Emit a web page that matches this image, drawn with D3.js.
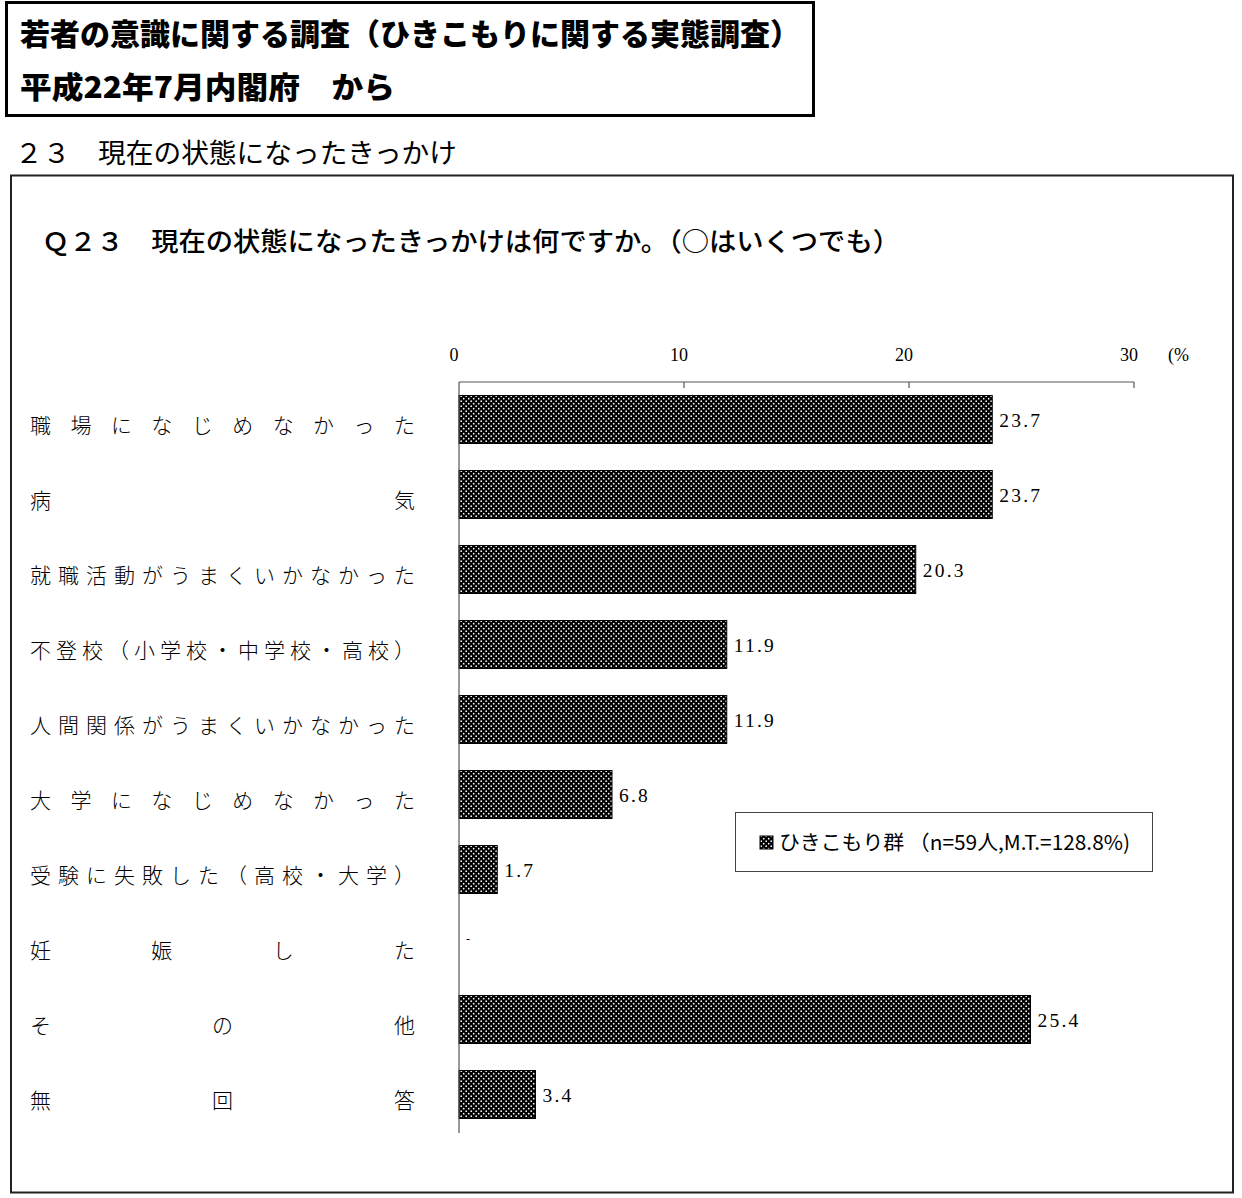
<!DOCTYPE html>
<html>
<head>
<meta charset="utf-8">
<script src="https://cdn.jsdelivr.net/npm/d3@7"></script>
<style>
  body { margin: 0; background: #fff; }
  svg { display: block; }
</style>
</head>
<body>
<div id="graph"></div>
<script>
var categories = [
    "職場になじめなかった",
    "病気",
    "就職活動がうまくいかなかった",
    "不登校（小学校・中学校・高校）",
    "人間関係がうまくいかなかった",
    "大学になじめなかった",
    "受験に失敗した（高校・大学）",
    "妊娠した",
    "その他",
    "無回答"
];
var values = [23.7, 23.7, 20.3, 11.9, 11.9, 6.8, 1.7, 0, 25.4, 3.4];
var tickValues = [0, 10, 20, 30];

var titleLines = ["若者の意識に関する調査（ひきこもりに関する実態調査）", "平成22年7月内閣府　から"];
var sectionTitle = "２３　現在の状態になったきっかけ";
var question = "Ｑ２３　現在の状態になったきっかけは何ですか。（○はいくつでも）";
var legendText = "ひきこもり群 （n=59人,M.T.=128.8%)";

var svgWidth = 1242;
var svgHeight = 1198;

var gothic = "'Noto Sans CJK JP', 'Noto Sans', sans-serif";
var serif = "'Liberation Serif', 'DejaVu Serif', serif";

var $svg = d3.select("#graph")
    .append("svg")
    .attr("width", svgWidth)
    .attr("height", svgHeight);

// dotted fill like the original hatch
var defs = $svg.append("defs");
var pat = defs.append("pattern")
    .attr("id", "dots")
    .attr("patternUnits", "userSpaceOnUse")
    .attr("width", 5)
    .attr("height", 5);
pat.append("rect").attr("width", 5).attr("height", 5).attr("fill", "#000");
pat.append("circle").attr("cx", 1.2).attr("cy", 1.2).attr("r", 0.85).attr("fill", "#fff");
pat.append("circle").attr("cx", 3.7).attr("cy", 3.7).attr("r", 0.85).attr("fill", "#fff");

// header box
$svg.append("rect")
    .attr("x", 6.5).attr("y", 2.5)
    .attr("width", 807).attr("height", 113)
    .attr("fill", "none")
    .attr("stroke", "#000")
    .attr("stroke-width", 3);

var titleWidths = [780, 375];
titleLines.forEach((t, i) => {
    $svg.append("text")
        .attr("x", 20)
        .attr("y", 45 + i * 53)
        .attr("font-family", gothic)
        .attr("font-weight", 900)
        .attr("font-size", 30)
        .attr("textLength", titleWidths[i])
        .attr("lengthAdjust", "spacingAndGlyphs")
        .text(t);
});

$svg.append("text")
    .attr("x", 15)
    .attr("y", 163)
    .attr("font-family", gothic)
    .attr("font-size", 27)
    .attr("textLength", 442)
    .attr("lengthAdjust", "spacingAndGlyphs")
    .text(sectionTitle);

// chart frame
$svg.append("rect")
    .attr("x", 11).attr("y", 175.5)
    .attr("width", 1222).attr("height", 1017)
    .attr("fill", "none")
    .attr("stroke", "#222")
    .attr("stroke-width", 2);

$svg.append("text")
    .attr("x", 42)
    .attr("y", 251)
    .attr("font-family", gothic)
    .attr("font-weight", 500)
    .attr("font-size", 26)
    .attr("textLength", 858)
    .attr("lengthAdjust", "spacingAndGlyphs")
    .text(question);

// scales
var x = d3.scaleLinear().domain([0, 30]).range([459, 1134]);
var y = d3.scaleBand()
    .domain(categories)
    .range([382, 1132])
    .paddingInner(0.36)
    .paddingOuter(0.18);

// top axis
var axisY = 382;
$svg.append("line")
    .attr("x1", x(0)).attr("x2", x(30))
    .attr("y1", axisY).attr("y2", axisY)
    .attr("stroke", "#555").attr("stroke-width", 1.2);
$svg.selectAll(".tick")
    .data(tickValues.slice(1))
    .join("line")
    .attr("class", "tick")
    .attr("x1", d => x(d)).attr("x2", d => x(d))
    .attr("y1", axisY).attr("y2", axisY + 6)
    .attr("stroke", "#555").attr("stroke-width", 1.2);
$svg.selectAll(".tickLabel")
    .data(tickValues)
    .join("text")
    .attr("class", "tickLabel")
    .attr("x", d => x(d) - 5)
    .attr("y", 361)
    .attr("text-anchor", "middle")
    .attr("font-family", serif)
    .attr("font-size", 18)
    .text(d => d);
$svg.append("text")
    .attr("x", 1168)
    .attr("y", 361)
    .attr("font-family", serif)
    .attr("font-size", 18)
    .text("(%");

// bars
values.forEach((v, i) => {
    if (v > 0) {
        $svg.append("rect")
            .attr("x", x(0))
            .attr("y", y(categories[i]))
            .attr("width", x(v) - x(0))
            .attr("height", y.bandwidth())
            .attr("fill", "url(#dots)")
            .attr("stroke", "#000")
            .attr("stroke-width", 1);
    }
    $svg.append("text")
        .attr("x", x(v) + 7)
        .attr("y", y(categories[i]) + y.bandwidth() / 2 + (v > 0 ? 7 : -2))
        .attr("font-family", serif)
        .attr("font-size", v > 0 ? 19.5 : 12)
        .attr("letter-spacing", 2.2)
        .text(v > 0 ? d3.format(".1f")(v) : "-");
});

// vertical axis
$svg.append("line")
    .attr("x1", x(0)).attr("x2", x(0))
    .attr("y1", axisY).attr("y2", 1133)
    .attr("stroke", "#555").attr("stroke-width", 1.2);

// category labels, justified between 30 and 415
var labelLeft = 30, labelRight = 415, charW = 21;
categories.forEach((c, i) => {
    var chars = Array.from(c);
    var step = chars.length > 1 ? (labelRight - labelLeft - charW) / (chars.length - 1) : 0;
    var g = $svg.append("text")
        .attr("font-family", gothic)
        .attr("font-weight", 300)
        .attr("font-size", charW)
        .attr("y", y(c) + y.bandwidth() / 2 + 13);
    chars.forEach((ch, j) => {
        g.append("tspan")
            .attr("x", labelLeft + j * step)
            .text(ch);
    });
});

// legend
$svg.append("rect")
    .attr("x", 735.5).attr("y", 812.5)
    .attr("width", 417).attr("height", 59)
    .attr("fill", "#fff")
    .attr("stroke", "#444").attr("stroke-width", 1);
$svg.append("rect")
    .attr("x", 760).attr("y", 836)
    .attr("width", 13).attr("height", 13)
    .attr("fill", "url(#dots)")
    .attr("stroke", "#000");
$svg.append("text")
    .attr("x", 779)
    .attr("y", 850)
    .attr("font-family", gothic)
    .attr("font-size", 20.5)
    .attr("textLength", 351)
    .attr("lengthAdjust", "spacingAndGlyphs")
    .text(legendText);
</script>
</body>
</html>
